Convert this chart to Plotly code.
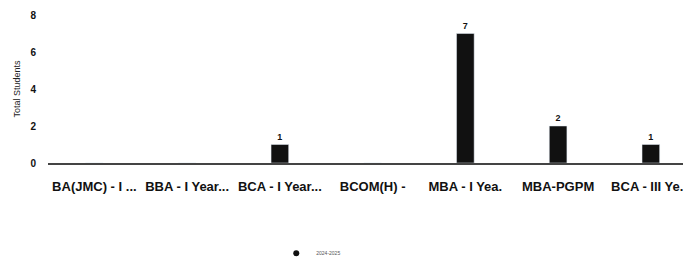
import plotly.graph_objects as go

categories = ["BA(JMC) - I ...", "BBA - I Year...", "BCA - I Year...", "BCOM(H) -",
              "MBA - I Yea.", "MBA-PGPM", "BCA - III Ye..."]
values = [0, 0, 1, 0, 7, 2, 1]
value_text = ["", "", "1", "", "7", "2", "1"]
series_name = "2024-2025"
y_ticks = [0, 2, 4, 6, 8]

fig = go.Figure()
fig.add_trace(go.Bar(
    x=categories, y=values, name=series_name,
    marker=dict(color="#111111"), width=0.19,
    text=value_text, textposition="outside",
    textfont=dict(family="Liberation Sans", size=9, color="#111111", weight="bold"),
    cliponaxis=False, showlegend=False,
))
fig.add_trace(go.Scatter(
    x=[None], y=[None], mode="markers", name=series_name,
    marker=dict(color="#111111", size=6, symbol="circle"),
    showlegend=True,
))
fig.update_layout(
    width=683, height=249,
    margin=dict(l=40, r=0, t=7, b=94, autoexpand=False),
    paper_bgcolor="white", plot_bgcolor="white",
    font=dict(family="Liberation Sans", color="#222222"),
    legend=dict(orientation="h", x=0.355, xanchor="left", y=-0.61, yanchor="middle",
                font=dict(size=5, color="#555555"), itemwidth=30),
    xaxis=dict(
        type="category", range=[-0.5, 6.433],
        showgrid=False, showline=True, linecolor="#444444", linewidth=1.5,
        ticks="outside", ticklen=11, tickcolor="rgba(0,0,0,0)",
        tickfont=dict(size=13, color="#111111", weight="bold"), tickangle=0,
        zeroline=False, automargin=False,
    ),
    yaxis=dict(
        range=[0, 8], tickvals=y_ticks, showgrid=False, zeroline=False, showline=False,
        ticks="outside", ticklen=9, tickcolor="rgba(0,0,0,0)",
        tickfont=dict(size=10, color="#111111", weight="bold"),
        title=dict(text="Total Students", font=dict(size=9, color="#222222"), standoff=8),
        automargin=False,
    ),
)
fig.write_html("out.html")
